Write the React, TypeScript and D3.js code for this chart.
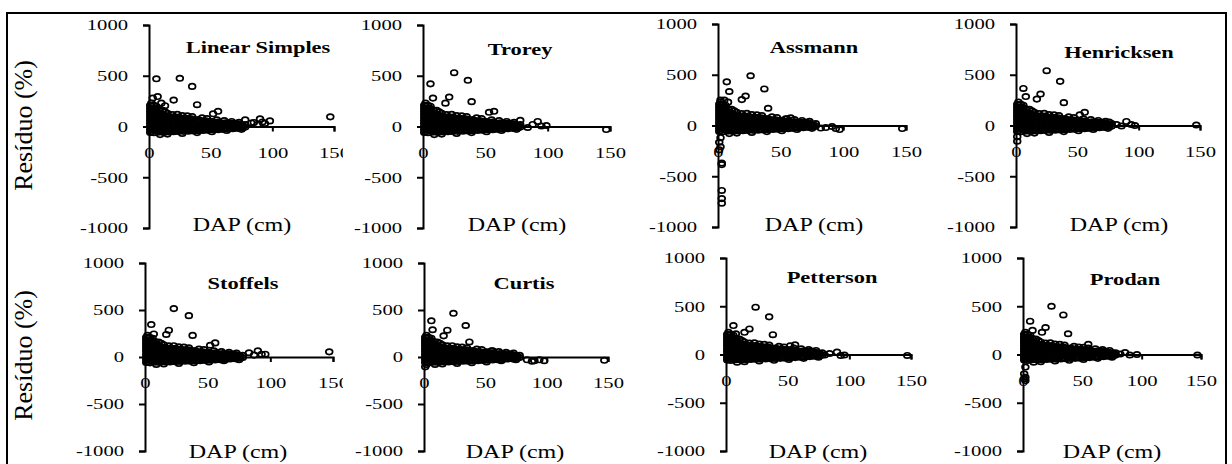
import React, { useRef, useEffect } from 'react';
import * as d3 from 'd3';

type Pt = [number, number];

const models = ['Linear Simples', 'Trorey', 'Assmann', 'Henricksen', 'Stoffels', 'Curtis', 'Petterson', 'Prodan'];
const xTicks = [0, 50, 100, 150];
const yTicks = [1000, 500, 0, -500, -1000];
const yTitle = 'Resíduo (%)';
const xTitle = 'DAP (cm)';

// dense cloud of residuals that looks the same in every panel
const coreCloud: Pt[] = [
  [1, -58], [1, -30], [1, 0], [1, 30], [1, 60], [1, 90], [1, 120], [1, 150], [1, 180], [1, 210],
  [2, -50], [2, -20], [2, 12], [2, 44], [2, 76], [2, 108], [2, 140], [2, 172], [2, 204], [2, 230],
  [4, -62], [4, -32], [4, -2], [4, 28], [4, 58], [4, 88], [4, 118], [4, 148], [4, 178], [4, 208],
  [6, -48], [6, -16], [6, 16], [6, 48], [6, 80], [6, 112], [6, 144], [6, 176], [6, 200],
  [8, -55], [8, -24], [8, 8], [8, 40], [8, 72], [8, 104], [8, 136], [8, 165],
  [10, -50], [10, -18], [10, 14], [10, 46], [10, 78], [10, 108], [10, 130],
  [12, -58], [12, -28], [12, 2], [12, 32], [12, 62], [12, 92], [12, 115],
  [14, -46], [14, -14], [14, 18], [14, 50], [14, 82], [14, 104],
  [16, -54], [16, -24], [16, 6], [16, 36], [16, 66], [16, 96],
  [18, -44], [18, -12], [18, 20], [18, 52], [18, 84],
  [20, -52], [20, -22], [20, 8], [20, 38], [20, 68], [20, 95],
  [22, -42], [22, -10], [22, 22], [22, 54], [22, 86],
  [24, -50], [24, -20], [24, 10], [24, 40], [24, 70], [24, 92],
  [26, -40], [26, -8], [26, 24], [26, 56], [26, 84],
  [28, -48], [28, -18], [28, 12], [28, 42], [28, 72],
  [30, -38], [30, -6], [30, 26], [30, 58], [30, 80],
  [32, -46], [32, -16], [32, 14], [32, 44], [32, 72],
  [34, -36], [34, -4], [34, 28], [34, 58], [34, 76],
  [36, -44], [36, -14], [36, 16], [36, 46], [36, 70],
  [38, -34], [38, -2], [38, 30], [38, 60],
  [40, -42], [40, -12], [40, 18], [40, 48], [40, 68],
  [42, -32], [42, 0], [42, 30], [42, 58],
  [44, -40], [44, -10], [44, 20], [44, 50],
  [46, -30], [46, 2], [46, 32], [46, 56],
  [48, -38], [48, -8], [48, 22], [48, 48],
  [50, -28], [50, 4], [50, 34], [50, 52],
  [52, -34], [52, -4], [52, 26], [52, 46],
  [54, -26], [54, 6], [54, 34],
  [56, -32], [56, -2], [56, 26], [56, 44],
  [58, -24], [58, 8], [58, 36],
  [60, -28], [60, 2], [60, 30],
  [62, -20], [62, 10], [62, 36],
  [64, -26], [64, 4], [64, 30],
  [66, -18], [66, 12], [66, 34],
  [68, -22], [68, 6], [68, 28],
  [70, -14], [70, 14], [70, 32],
  [72, -18], [72, 8], [72, 26],
  [74, -10], [74, 16],
  [76, -14], [76, 10],
  [78, -6], [78, 18],
];

// loose rings sitting on the edge of the cloud
const cloudEdge: Pt[] = [
  [11, 160], [13, 145], [15, 130], [19, 118], [23, 120], [27, 108], [31, 105], [35, 98],
  [43, 85], [47, 78], [55, 66], [61, 58], [67, 50], [73, 42],
  [9, -80], [15, -75], [27, -68], [39, -60], [51, -52], [63, -40], [75, -28],
];

// outliers and tails of each model
const linearSimples: Pt[] = [
  [3, 280], [6, 470], [7, 295], [10, 230], [13, 205], [20, 260], [25, 475], [35, 395], [39, 215],
  [52, 125], [56, 150], [78, 65], [83, 35], [85, 40], [88, 20], [90, 75], [92, 45], [94, 30], [98, 55], [147, 95],
];
const trorey: Pt[] = [
  [6, 420], [8, 280], [18, 230], [21, 290], [25, 530], [36, 455], [39, 245], [53, 140], [57, 150],
  [78, 60], [84, -10], [88, 20], [92, 50], [95, 5], [99, 10], [147, -30],
];
const assmann: Pt[] = [
  [2, 250], [5, 250], [8, 230], [7, 430], [9, 335], [19, 255], [22, 290], [26, 490], [37, 360], [40, 170],
  [54, 65], [58, 75], [82, -25], [86, -20], [91, -10], [94, -30], [97, -40], [147, -30],
  [2, -120], [1, -165], [2, -210], [1, -240], [3, -370], [3, -385], [3, -640], [3, -720], [3, -765],
];
const henricksen: Pt[] = [
  [6, 365], [8, 285], [17, 260], [20, 310], [25, 540], [36, 435], [39, 225], [52, 105], [56, 130],
  [76, 35], [82, 10], [86, -5], [90, 40], [94, 10], [97, 0], [147, 5], [1, -110], [1, -155],
];
const stoffels: Pt[] = [
  [5, 345], [7, 245], [17, 240], [19, 285], [23, 515], [35, 440], [38, 230], [52, 125], [56, 150],
  [83, 45], [87, 20], [90, 65], [93, 30], [96, 30], [147, 55],
];
const curtis: Pt[] = [
  [6, 385], [7, 290], [16, 225], [19, 285], [24, 465], [34, 335], [37, 160], [51, 55], [56, 65],
  [73, -20], [84, -30], [88, -45], [90, -40], [94, -30], [98, -40], [147, -35], [1, -105], [2, -80],
];
const petterson: Pt[] = [
  [6, 300], [8, 215], [15, 230], [19, 265], [24, 490], [35, 390], [38, 205], [52, 90], [56, 100],
  [80, -5], [84, 10], [90, 25], [93, -10], [96, -5], [147, -10],
];
const prodan: Pt[] = [
  [6, 345], [8, 250], [16, 230], [19, 280], [24, 500], [34, 410], [38, 215], [51, 75], [55, 105],
  [76, 15], [82, 5], [86, 20], [90, -5], [96, 0], [147, -5],
  [2, -130], [1, -200], [2, -235], [1, -250], [2, -270],
];
const modelPoints = [linearSimples, trorey, assmann, henricksen, stoffels, curtis, petterson, prodan];

// where each panel sits on the page
const panels = [
  { left: 8, right: 343, ax: 149, w: 185, top: 25, bottom: 228, tx: 258, ty: 53, dx: 242, dy: 231 },
  { left: 343, right: 640, ax: 423, w: 187, top: 25, bottom: 228, tx: 520, ty: 55, dx: 517, dy: 231 },
  { left: 640, right: 935, ax: 718, w: 188, top: 24, bottom: 227, tx: 814, ty: 53, dx: 814, dy: 231 },
  { left: 935, right: 1225, ax: 1016, w: 184, top: 24, bottom: 227, tx: 1119, ty: 58, dx: 1119, dy: 231 },
  { left: 8, right: 343, ax: 145, w: 188, top: 263, bottom: 451, tx: 243, ty: 289, dx: 238, dy: 458 },
  { left: 343, right: 640, ax: 424, w: 184, top: 263, bottom: 451, tx: 524, ty: 289, dx: 515, dy: 458 },
  { left: 640, right: 935, ax: 726, w: 185, top: 258, bottom: 451, tx: 832, ty: 283, dx: 818, dy: 458 },
  { left: 935, right: 1225, ax: 1023, w: 178, top: 258, bottom: 451, tx: 1125, ty: 285, dx: 1112, dy: 458 },
];

const FONT = '"Liberation Serif", "Times New Roman", serif';
const SX = 1.33;

const ResidualPanels: React.FC = () => {
  const svgRef = useRef<SVGSVGElement | null>(null);

  useEffect(() => {
    if (!svgRef.current) return;
    const svg = d3.select(svgRef.current);
    svg.selectAll('*').remove();

    const stretch = (sel: any) => {
      sel.each(function (this: SVGTextElement) {
        const t = d3.select(this);
        const tx = +(t.attr('x') || 0);
        const ty = +(t.attr('y') || 0);
        t.attr('x', 0).attr('y', 0).attr('transform', `translate(${tx},${ty}) scale(${SX},1)`);
      });
    };

    panels.forEach((p, i) => {
      const g = svg.append('g');
      const rowTop = i < 4 ? 14 : 238;
      g.append('rect')
        .attr('x', p.left).attr('y', rowTop)
        .attr('width', p.right - p.left).attr('height', 224)
        .attr('fill', '#fff');

      const x = d3.scaleLinear().domain([0, 150]).range([p.ax, p.ax + p.w]);
      const y = d3.scaleLinear().domain([-1000, 1000]).range([p.bottom, p.top]);

      const yAxisG = g.append('g')
        .attr('transform', `translate(${x(0)},0)`)
        .call(d3.axisLeft(y).tickValues(yTicks).tickSize(6).tickPadding(15).tickFormat((d: any) => String(d)));

      const xAxisG = g.append('g')
        .attr('transform', `translate(0,${y(0)})`)
        .call(d3.axisBottom(x).tickValues(xTicks).tickSize(5).tickPadding(15).tickFormat((d: any) => String(d)));

      [yAxisG, xAxisG].forEach(a => {
        a.attr('font-family', FONT).attr('font-size', 15.5);
        a.selectAll('path, line').attr('stroke', '#000').attr('stroke-width', 2);
        a.selectAll('text').attr('fill', '#000');
        stretch(a.selectAll('text'));
      });

      g.append('g')
        .selectAll('ellipse')
        .data([...coreCloud, ...cloudEdge, ...modelPoints[i]])
        .enter()
        .append('ellipse')
        .attr('cx', (d: Pt) => x(d[0]))
        .attr('cy', (d: Pt) => y(d[1]))
        .attr('rx', 3.4)
        .attr('ry', 2.7)
        .attr('fill', 'none')
        .attr('stroke', '#000')
        .attr('stroke-width', 1.7);

      g.append('text')
        .attr('transform', `translate(${p.tx},${p.ty}) scale(1.4,1)`)
        .attr('text-anchor', 'middle')
        .attr('font-family', FONT)
        .attr('font-weight', 'bold')
        .attr('font-size', 16)
        .text(models[i]);

      g.append('text')
        .attr('transform', `translate(${p.dx},${p.dy}) scale(1.3,1)`)
        .attr('text-anchor', 'middle')
        .attr('font-family', FONT)
        .attr('font-size', 18.5)
        .text(xTitle);
    });

    [125.5, 355.5].forEach(cy => {
      svg.append('text')
        .attr('transform', `translate(32,${cy}) rotate(-90)`)
        .attr('text-anchor', 'middle')
        .attr('font-family', FONT)
        .attr('font-size', 26)
        .text(yTitle);
    });

    svg.append('rect')
      .attr('x', 7).attr('y', 13)
      .attr('width', 1219).attr('height', 460)
      .attr('fill', 'none')
      .attr('stroke', '#000')
      .attr('stroke-width', 2);
  }, []);

  return (
    <svg
      ref={svgRef}
      width={1232}
      height={464}
      style={{ position: 'fixed', left: 0, top: 0, background: '#fff' }}
    />
  );
};

export default function App() {
  return <ResidualPanels />;
}
